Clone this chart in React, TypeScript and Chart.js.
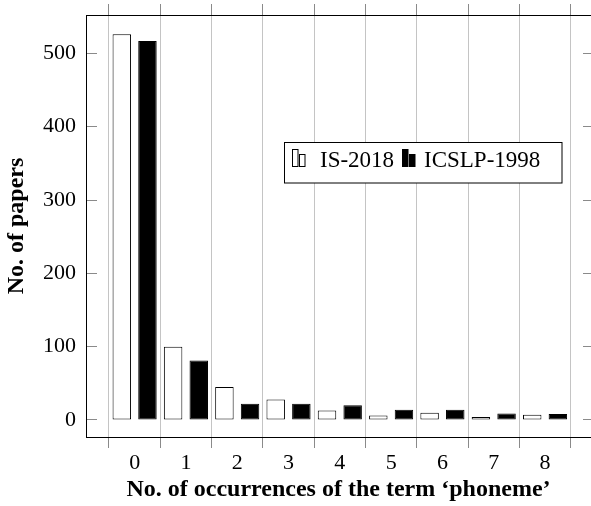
import React, { useEffect, useRef } from 'react';
import { Chart, registerables } from 'chart.js';

Chart.register(...registerables);

const categories = [0, 1, 2, 3, 4, 5, 6, 7, 8];
const is2018 = [526, 100, 45, 28, 13, 6, 10, 4, 7];
const icslp1998 = [517, 81, 22, 22, 20, 14, 14, 9, 8];
const yTicks = [0, 100, 200, 300, 400, 500];
const seriesLabels = ['IS-2018', 'ICSLP-1998'];
const xTitle = 'No. of occurrences of the term \u2018phoneme\u2019';
const yTitle = 'No. of papers';

const X_MIN = -0.948;
const X_MAX = 8.896;
const Y_MIN = -23.2;
const Y_MAX = 552.3;

const SERIF = "'Liberation Serif', 'Times New Roman', serif";
const GRID = '#c4c4c4';
const TICK = '#8a8a8a';

const zeroPad = (s: any) => {
  s.paddingTop = 0;
  s.paddingBottom = 0;
  s.paddingLeft = 0;
  s.paddingRight = 0;
};

const legendPlugin = {
  id: 'boxLegend',
  afterDraw(chart: any) {
    const ctx = chart.ctx;
    ctx.save();
    const bx = 284.5, by = 142.5, bw = 277.5, bh = 40.5;
    ctx.fillStyle = '#fff';
    ctx.fillRect(bx, by, bw, bh);
    ctx.strokeStyle = '#000';
    ctx.lineWidth = 1;
    ctx.strokeRect(bx, by, bw, bh);
    const drawMarker = (x: number, fill: string) => {
      ctx.fillStyle = fill;
      ctx.strokeStyle = '#000';
      ctx.fillRect(x, 149.5, 6, 17);
      ctx.strokeRect(x + 0.5, 149.5, 5.5, 17);
      ctx.fillRect(x + 7, 154.5, 6, 12);
      ctx.strokeRect(x + 7.5, 154.5, 5.5, 12);
    };
    drawMarker(292, '#fff');
    drawMarker(402, '#000');
    ctx.fillStyle = '#000';
    ctx.font = `23px ${SERIF}`;
    ctx.textBaseline = 'alphabetic';
    ctx.textAlign = 'left';
    ctx.fillText(seriesLabels[0], 320, 167);
    ctx.fillText(seriesLabels[1], 424, 167);
    ctx.restore();
  },
};

export default function App() {
  const ref = useRef<HTMLCanvasElement | null>(null);

  useEffect(() => {
    if (!ref.current) return;
    const xTickList = () => categories.map((v) => ({ value: v }));
    const chart = new Chart(ref.current, {
      type: 'bar',
      data: {
        datasets: [
          {
            label: seriesLabels[0],
            data: categories.map((c, i) => ({ x: c, y: is2018[i] })),
            backgroundColor: '#ffffff',
            borderColor: '#000000',
            borderWidth: 1,
            borderSkipped: false,
            categoryPercentage: 1,
            barPercentage: 0.72,
            xAxisID: 'x',
            yAxisID: 'y',
          },
          {
            label: seriesLabels[1],
            data: categories.map((c, i) => ({ x: c, y: icslp1998[i] })),
            backgroundColor: '#000000',
            borderColor: '#000000',
            borderWidth: 1,
            borderSkipped: false,
            categoryPercentage: 1,
            barPercentage: 0.72,
            xAxisID: 'x',
            yAxisID: 'y',
          },
        ] as any,
      },
      options: {
        animation: false,
        responsive: false,
        devicePixelRatio: 1,
        layout: { padding: 0 },
        plugins: { legend: { display: false }, tooltip: { enabled: false } },
        scales: {
          x: {
            type: 'linear',
            position: 'bottom',
            min: X_MIN,
            max: X_MAX,
            offset: false,
            afterBuildTicks: (s: any) => { s.ticks = xTickList(); },
            afterFit: (s: any) => { s.height = 69; zeroPad(s); },
            grid: { offset: true, color: GRID, tickColor: TICK, tickLength: 11, drawTicks: true },
            border: { display: true, color: '#000', width: 1 },
            ticks: {
              color: '#000',
              font: { family: SERIF, size: 22 },
              padding: 2,
              maxRotation: 0,
              autoSkip: false,
              callback: (v: any) => String(v),
            },
            title: {
              display: true,
              text: xTitle,
              color: '#000',
              font: { family: SERIF, size: 24, weight: 'bold' },
              padding: { top: 0, bottom: 2 },
            },
          },
          xTop: {
            type: 'linear',
            position: 'top',
            min: X_MIN,
            max: X_MAX,
            offset: false,
            afterBuildTicks: (s: any) => { s.ticks = xTickList(); },
            afterFit: (s: any) => { s.height = 15; zeroPad(s); },
            grid: { offset: true, drawOnChartArea: false, color: GRID, tickColor: TICK, tickLength: 11 },
            border: { display: true, color: '#000', width: 1 },
            ticks: { display: false },
          },
          y: {
            type: 'linear',
            position: 'left',
            min: Y_MIN,
            max: Y_MAX,
            afterBuildTicks: (s: any) => { s.ticks = yTicks.map((v) => ({ value: v })); },
            afterFit: (s: any) => { s.width = 86; zeroPad(s); },
            grid: { drawOnChartArea: false, color: TICK, tickColor: TICK, tickLength: -11 },
            border: { display: true, color: '#000', width: 1 },
            ticks: {
              color: '#000',
              font: { family: SERIF, size: 22 },
              padding: 21,
              callback: (v: any) => String(v),
            },
            title: {
              display: true,
              text: yTitle,
              color: '#000',
              font: { family: SERIF, size: 24, weight: 'bold' },
              padding: { top: 2, bottom: 0 },
            },
          },
          yR: {
            type: 'linear',
            position: 'right',
            min: Y_MIN,
            max: Y_MAX,
            afterBuildTicks: (s: any) => { s.ticks = yTicks.map((v) => ({ value: v })); },
            afterFit: (s: any) => { s.width = 0; zeroPad(s); },
            grid: { drawOnChartArea: false, color: TICK, tickColor: TICK, tickLength: -8 },
            border: { display: false },
            ticks: { display: false },
          },
        } as any,
      },
      plugins: [legendPlugin],
    });
    return () => chart.destroy();
  }, []);

  return (
    <div style={{ position: 'absolute', left: 0, top: 0, width: 591, height: 506, background: '#fff' }}>
      <canvas ref={ref} width={591} height={506} style={{ display: 'block' }} />
    </div>
  );
}
